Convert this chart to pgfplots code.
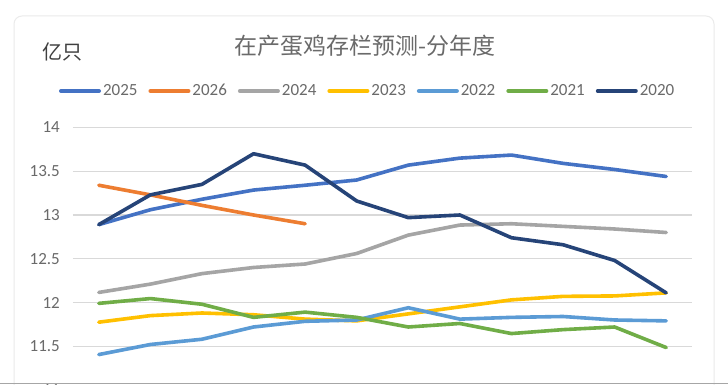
\documentclass[border=0pt]{standalone}
\usepackage{fontspec}
\setmainfont{Carlito}
\newfontfamily\cjk{Noto Sans CJK SC}
\usepackage{pgfplots}
\pgfplotsset{compat=1.18}
\definecolor{c2025}{HTML}{4472C4}
\definecolor{c2026}{HTML}{ED7D31}
\definecolor{c2024}{HTML}{A5A5A5}
\definecolor{c2023}{HTML}{FFC000}
\definecolor{c2022}{HTML}{5B9BD5}
\definecolor{c2021}{HTML}{70AD47}
\definecolor{c2020}{HTML}{264478}
\definecolor{txtgray}{HTML}{6A6A6A}
\definecolor{gridgray}{HTML}{D9D9D9}
\begin{document}
\begin{tikzpicture}[x=1pt,y=1pt]
\path[use as bounding box, fill=white] (0,0) rectangle (728,385);
\begin{scope}
\clip (0,0) rectangle (728,385);
\draw[rounded corners=8pt, draw=black!8, line width=1pt, fill=white] (14,-20) rectangle (714,369);
\node[text=txtgray, font=\cjk\fontsize{23}{27}\selectfont, inner sep=0pt] at (365,339) {在产蛋鸡存栏预测-分年度};
\node[text=black!75, font=\cjk\fontsize{20}{24}\selectfont, inner sep=0pt] at (62,333) {亿只};
\begin{axis}[
  at={(73pt,-5pt)}, anchor=south west,
  scale only axis, width=619pt, height=262.5pt,
  xmin=-0.5, xmax=11.5, ymin=11, ymax=14,
  axis line style={draw=none},
  ytick={11,11.5,12,12.5,13,13.5,14},
  yticklabels={11,11.5,12,12.5,13,13.5,14},
  xtick=\empty,
  major tick length=0pt,
  ymajorgrids, grid style={gridgray, line width=1.3pt},
  yticklabel style={font=\fontsize{17}{20}\selectfont, text=txtgray, inner sep=0pt, anchor=east, xshift=-13pt},
  clip=false,
  legend columns=-1,
  legend style={at={(0.476,1.139)}, anchor=center, draw=none, fill=none,
    font=\fontsize{17}{20}\selectfont, text=txtgray,
    /tikz/every even column/.append style={column sep=9pt},
    inner sep=0pt},
  legend image code/.code={\draw[line width=4pt, line cap=round, #1] (0pt,0pt) -- (38pt,0pt);},
  every axis plot/.append style={line width=3.6pt, line join=round, line cap=round},
]
\addplot[c2025] coordinates {(0,12.89)(1,13.06)(2,13.18)(3,13.285)(4,13.34)(5,13.40)(6,13.57)(7,13.65)(8,13.685)(9,13.59)(10,13.52)(11,13.44)};
\addlegendentry{2025}
\addplot[c2026] coordinates {(0,13.34)(1,13.23)(2,13.11)(3,13.00)(4,12.90)};
\addlegendentry{2026}
\addplot[c2024] coordinates {(0,12.115)(1,12.21)(2,12.33)(3,12.40)(4,12.44)(5,12.56)(6,12.77)(7,12.885)(8,12.90)(9,12.87)(10,12.84)(11,12.80)};
\addlegendentry{2024}
\addplot[c2023] coordinates {(0,11.775)(1,11.85)(2,11.88)(3,11.86)(4,11.81)(5,11.79)(6,11.87)(7,11.95)(8,12.03)(9,12.07)(10,12.075)(11,12.11)};
\addlegendentry{2023}
\addplot[c2022] coordinates {(0,11.405)(1,11.52)(2,11.58)(3,11.72)(4,11.785)(5,11.80)(6,11.94)(7,11.81)(8,11.83)(9,11.84)(10,11.80)(11,11.79)};
\addlegendentry{2022}
\addplot[c2021] coordinates {(0,11.99)(1,12.045)(2,11.98)(3,11.83)(4,11.89)(5,11.83)(6,11.72)(7,11.76)(8,11.645)(9,11.69)(10,11.72)(11,11.485)};
\addlegendentry{2021}
\addplot[c2020] coordinates {(0,12.89)(1,13.23)(2,13.35)(3,13.70)(4,13.57)(5,13.16)(6,12.97)(7,13.00)(8,12.74)(9,12.66)(10,12.48)(11,12.11)};
\addlegendentry{2020}
\end{axis}
\draw[black!35, line width=1pt] (0,1) -- (728,1);
\end{scope}
\end{tikzpicture}
\end{document}
